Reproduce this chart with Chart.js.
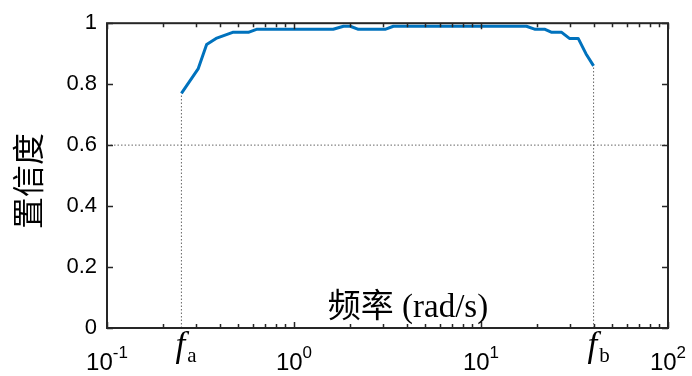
<!DOCTYPE html>
<html>
<head>
<meta charset="utf-8">
<script src="https://cdn.jsdelivr.net/npm/chart.js@4/dist/chart.umd.min.js"></script>
<style>
  html, body { margin: 0; padding: 0; background: #fff; }
</style>
</head>
<body>
<canvas id="chart" width="692" height="376"></canvas>
<script>
// frequency (rad/s) and confidence
const freq       = [0.25, 0.307, 0.341, 0.383, 0.47, 0.57, 0.63, 1.62, 1.84, 2.0, 2.21, 3.07, 3.4, 17.5, 19.5, 22, 23.9, 27, 29.7, 33.1, 36.4, 40];
const confidence = [0.77, 0.85, 0.93, 0.95, 0.97, 0.97, 0.98, 0.98, 0.99, 0.99, 0.98, 0.98, 0.99, 0.99, 0.98, 0.98, 0.97, 0.97, 0.95, 0.95, 0.90, 0.86];

const fA = 0.25;
const fB = 40;
const threshold = 0.6;

const yTicks     = [0, 0.2, 0.4, 0.6, 0.8, 1];
const decades    = [0.1, 1, 10, 100];
const decadeExps = ['-1', '0', '1', '2'];
const boundLabels = [{ at: fA, sub: 'a' }, { at: fB, sub: 'b' }];

const xTitle = '频率 (rad/s)';
const yTitle = '置信度';

const LINE_BLUE = '#0072BD';
const AXIS = '#262626';
const DOT = '#666666';

// ─── custom frame / labels (MATLAB style) ─────────────────────

const framePlugin = {
    id: 'frame',
    afterDraw(chart) {
        const { ctx, chartArea: a, scales: { x, y } } = chart;
        ctx.save();

        // box
        ctx.strokeStyle = AXIS;
        ctx.lineWidth = 2;
        ctx.strokeRect(a.left, a.top, a.right - a.left, a.bottom - a.top);

        // y ticks, inward on both sides
        ctx.lineWidth = 1.5;
        ctx.beginPath();
        for (const v of yTicks) {
            const py = Math.round(y.getPixelForValue(v)) + 0.5;
            ctx.moveTo(a.left, py);  ctx.lineTo(a.left + 6, py);
            ctx.moveTo(a.right, py); ctx.lineTo(a.right - 6, py);
        }
        // x ticks: decades and minor 2..9
        for (let d = 0; d < decades.length; d++) {
            const base = decades[d];
            const px = Math.round(x.getPixelForValue(base)) + 0.5;
            ctx.moveTo(px, a.bottom); ctx.lineTo(px, a.bottom - 6);
            ctx.moveTo(px, a.top);    ctx.lineTo(px, a.top + 6);
            if (d === decades.length - 1) continue;
            for (let m = 2; m <= 9; m++) {
                const mx = Math.round(x.getPixelForValue(base * m)) + 0.5;
                ctx.moveTo(mx, a.bottom); ctx.lineTo(mx, a.bottom - 4);
                ctx.moveTo(mx, a.top);    ctx.lineTo(mx, a.top + 4);
            }
        }
        ctx.stroke();

        // decade labels 10^n
        ctx.fillStyle = '#000';
        ctx.textBaseline = 'alphabetic';
        ctx.textAlign = 'left';
        decades.forEach((v, i) => {
            const px = x.getPixelForValue(v);
            ctx.font = '24px "Liberation Sans", Arial, sans-serif';
            const wBase = ctx.measureText('10').width;
            ctx.font = '17px "Liberation Sans", Arial, sans-serif';
            const wExp = ctx.measureText(decadeExps[i]).width;
            const x0 = px - (wBase + wExp) / 2;
            ctx.font = '24px "Liberation Sans", Arial, sans-serif';
            ctx.fillText('10', x0, 370);
            ctx.font = '17px "Liberation Sans", Arial, sans-serif';
            ctx.fillText(decadeExps[i], x0 + wBase, 358);
        });

        // f_a, f_b
        for (const b of boundLabels) {
            const px = x.getPixelForValue(b.at);
            ctx.font = 'italic 35px "Liberation Serif", "Times New Roman", serif';
            ctx.fillText('f', px - 6, 356);
            const wf = ctx.measureText('f').width;
            ctx.font = '21px "Liberation Serif", "Times New Roman", serif';
            ctx.fillText(b.sub, px - 6 + wf + 2, 362);
        }

        // x title, sits inside the axes
        ctx.font = '33px "Liberation Serif", "Noto Sans CJK SC", serif';
        ctx.textAlign = 'center';
        ctx.textBaseline = 'middle';
        ctx.fillText(xTitle, 408, 308);

        // y title
        ctx.translate(28, 181);
        ctx.rotate(-Math.PI / 2);
        ctx.font = '32px "Noto Sans CJK SC", serif';
        ctx.fillText(yTitle, 0, 0);

        ctx.restore();
    }
};

// ─── chart ────────────────────────────────────────────────────

new Chart(document.getElementById('chart'), {
    type: 'line',
    data: {
        datasets: [
            {
                data: [{ x: decades[0], y: threshold }, { x: decades[decades.length - 1], y: threshold }],
                borderColor: DOT,
                borderWidth: 1,
                borderDash: [1.5, 2],
                pointRadius: 0,
            },
            {
                data: [{ x: fA, y: 0 }, { x: fA, y: confidence[0] }],
                borderColor: DOT,
                borderWidth: 1,
                borderDash: [1.5, 2],
                pointRadius: 0,
            },
            {
                data: [{ x: fB, y: 0 }, { x: fB, y: confidence[confidence.length - 1] }],
                borderColor: DOT,
                borderWidth: 1,
                borderDash: [1.5, 2],
                pointRadius: 0,
            },
            {
                data: freq.map((f, i) => ({ x: f, y: confidence[i] })),
                borderColor: LINE_BLUE,
                borderWidth: 3,
                pointRadius: 0,
                tension: 0,
                borderJoinStyle: 'round',
            },
        ],
    },
    options: {
        responsive: false,
        devicePixelRatio: 1,
        animation: false,
        layout: { padding: { left: 0, right: 24, top: 17, bottom: 48 } },
        plugins: { legend: { display: false }, tooltip: { enabled: false } },
        scales: {
            x: {
                type: 'logarithmic',
                min: 0.1,
                max: 100,
                display: false,
            },
            y: {
                type: 'linear',
                min: 0,
                max: 1,
                afterFit(scale) { scale.width = 107; },
                afterBuildTicks(scale) { scale.ticks = yTicks.map(v => ({ value: v })); },
                grid: { display: false, drawTicks: false },
                border: { display: false },
                ticks: {
                    padding: 10,
                    color: '#000',
                    font: { family: '"Liberation Sans", Arial, sans-serif', size: 22 },
                    callback: v => String(+v.toFixed(1)),
                },
            },
        },
    },
    plugins: [framePlugin],
});
</script>
</body>
</html>
